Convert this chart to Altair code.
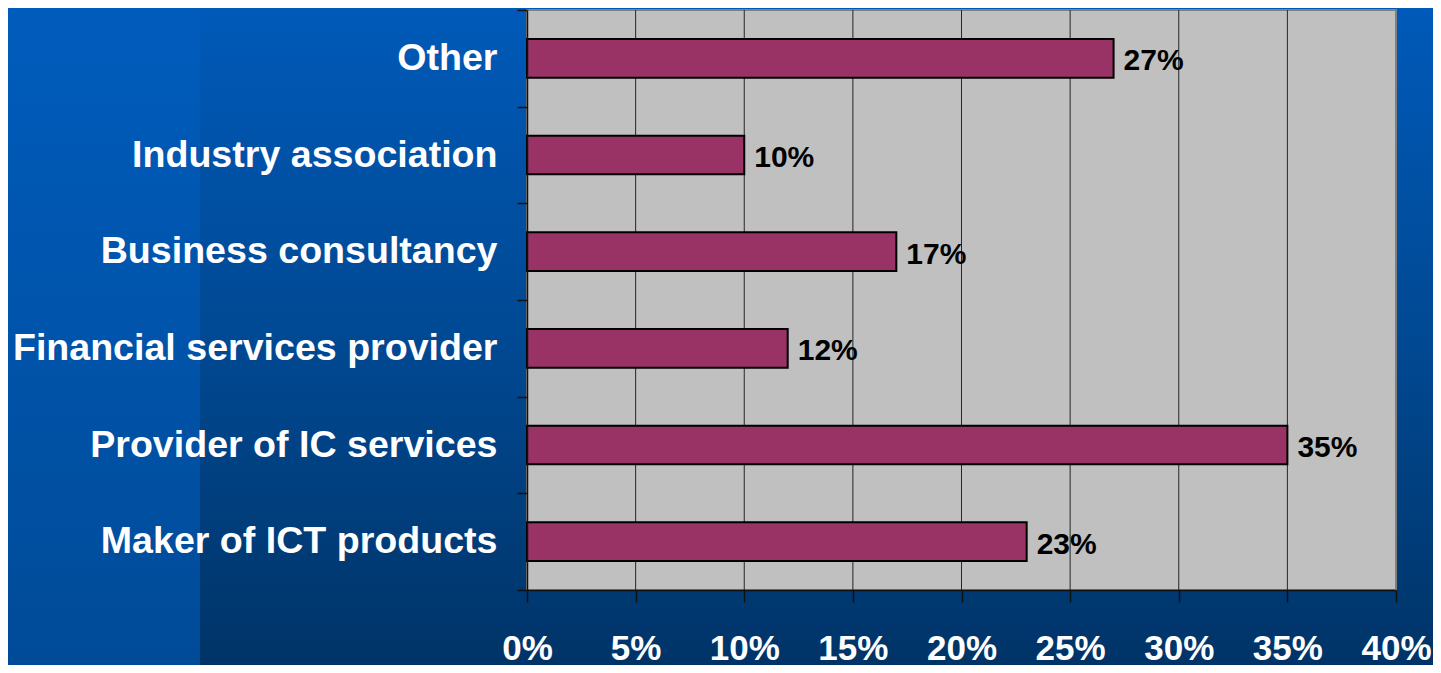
import altair as alt
import pandas as pd

categories = ["Other", "Industry association", "Business consultancy",
              "Financial services provider", "Provider of IC services",
              "Maker of ICT products"]
values = [27, 10, 17, 12, 35, 23]
tick_values = [0, 5, 10, 15, 20, 25, 30, 35, 40]
grid_values = [5, 10, 15, 20, 25, 30, 35]

FONT = "Liberation Sans, Arial, sans-serif"
W, H = 869, 580

df = pd.DataFrame({"cat": categories, "val": values})
one = pd.DataFrame({"d": [0]})

xscale = alt.Scale(domain=[0, 40], nice=False, zero=True)
yscale = alt.Scale(domain=categories, paddingInner=0, paddingOuter=0)

bg = alt.Chart(one).mark_rect(
    color=alt.Gradient(gradient="linear",
                       stops=[alt.GradientStop(color="#005AB9", offset=0),
                              alt.GradientStop(color="#00478F", offset=0.55),
                              alt.GradientStop(color="#003468", offset=1)],
                       x1=0, x2=0, y1=0, y2=1)
).encode(x=alt.value(-519), x2=alt.value(906), y=alt.value(-2), y2=alt.value(655))

strip = alt.Chart(one).mark_rect(
    color=alt.Gradient(gradient="linear",
                       stops=[alt.GradientStop(color="#005CBC", offset=0),
                              alt.GradientStop(color="#004B98", offset=1)],
                       x1=0, x2=0, y1=0, y2=1)
).encode(x=alt.value(-519), x2=alt.value(-327), y=alt.value(-2), y2=alt.value(655))

plotbg = alt.Chart(one).mark_rect(fill="#C0C0C0", stroke="#808080", strokeWidth=2).encode(
    x=alt.value(0), x2=alt.value(W), y=alt.value(0), y2=alt.value(H))

grid = alt.Chart(pd.DataFrame({"t": grid_values})).mark_rule(
    color="#262626", strokeWidth=1).encode(x=alt.X("t:Q", scale=xscale))

bars = alt.Chart(df).mark_bar(fill="#993366", stroke="#000000", strokeWidth=2,
                              height={"band": 0.4}).encode(
    x=alt.X("val:Q", scale=xscale,
            axis=alt.Axis(values=tick_values, labelExpr="datum.value + '%'",
                          grid=False, tickSize=12, tickWidth=1.5, tickColor="#111111",
                          domainColor="#111111", domainWidth=1.5,
                          labelColor="white", labelFont=FONT, labelFontSize=35,
                          labelFontWeight="bold", labelPadding=29, labelFlush=False,
                          labelOverlap=False, title=None, zindex=1)),
    y=alt.Y("cat:N", scale=yscale, sort=categories,
            axis=alt.Axis(tickBand="extent", tickSize=10, tickWidth=1.5,
                          tickColor="#111111", domainColor="#111111", domainWidth=1.5,
                          labelColor="white", labelFont=FONT, labelFontSize=37.6,
                          labelFontWeight="bold", labelPadding=20, labelLimit=700,
                          title=None, zindex=1)),
)

labels = alt.Chart(df).mark_text(
    align="left", baseline="middle", dx=10, dy=3, font=FONT, fontSize=30,
    fontWeight="bold", color="black").encode(
    x=alt.X("val:Q", scale=xscale),
    y=alt.Y("cat:N", scale=yscale, sort=categories),
    text=alt.Text("lbl:N"),
).transform_calculate(lbl="datum.val + '%'")

chart = alt.layer(bg, strip, plotbg, grid, bars, labels).properties(
    width=W, height=H,
    autosize=alt.AutoSizeParams(type="none"),
    padding={"left": 519, "top": 2, "right": 37, "bottom": 75},
).configure_view(strokeWidth=0).configure(background="#003d7a")

chart.save("out.html", embed_options={"renderer": "svg", "actions": False})
